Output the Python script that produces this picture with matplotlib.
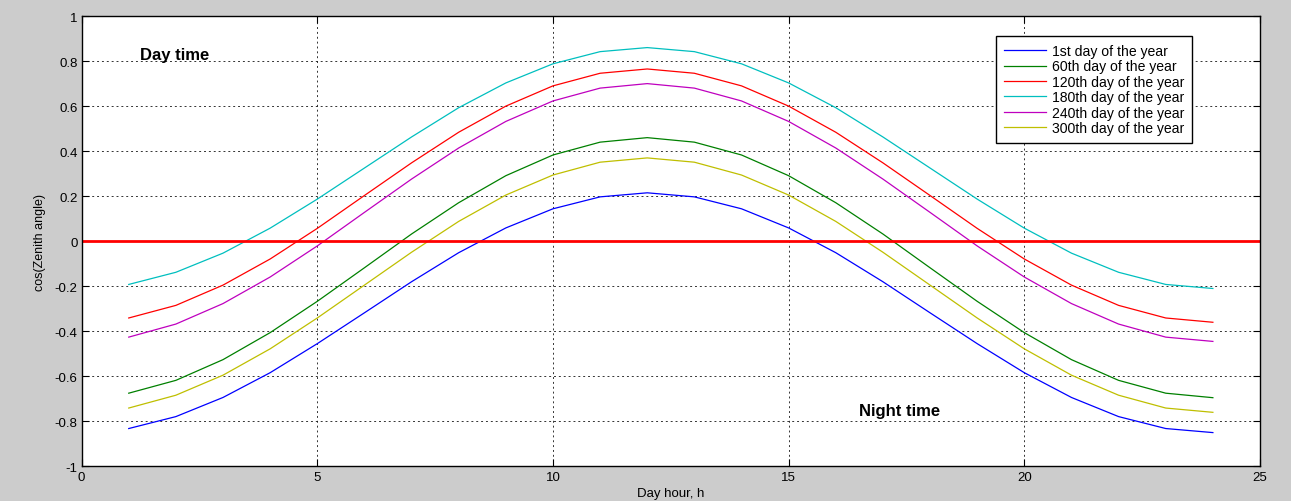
import numpy as np
import matplotlib.pyplot as plt

plt.rcParams['font.family'] = ['Liberation Sans', 'DejaVu Sans']

hours = list(range(1, 25))

# cos(zenith angle), one list per day of the year
day1 = [-0.832, -0.779, -0.694, -0.584, -0.455, -0.318, -0.180, -0.051, 0.059, 0.144, 0.197, 0.215,
        0.197, 0.144, 0.059, -0.051, -0.180, -0.318, -0.455, -0.584, -0.694, -0.779, -0.832, -0.850]
day60 = [-0.675, -0.618, -0.526, -0.406, -0.267, -0.118, 0.032, 0.171, 0.291, 0.383, 0.440, 0.460,
         0.440, 0.383, 0.291, 0.171, 0.032, -0.118, -0.267, -0.406, -0.526, -0.618, -0.675, -0.695]
day120 = [-0.341, -0.285, -0.195, -0.079, 0.057, 0.203, 0.348, 0.484, 0.600, 0.690, 0.746, 0.765,
          0.746, 0.690, 0.600, 0.484, 0.348, 0.203, 0.057, -0.079, -0.195, -0.285, -0.341, -0.360]
day180 = [-0.192, -0.138, -0.053, 0.058, 0.187, 0.325, 0.463, 0.593, 0.703, 0.788, 0.842, 0.860,
          0.842, 0.788, 0.703, 0.593, 0.463, 0.325, 0.187, 0.058, -0.053, -0.138, -0.192, -0.210]
day240 = [-0.426, -0.368, -0.277, -0.159, -0.021, 0.128, 0.276, 0.414, 0.532, 0.623, 0.680, 0.700,
          0.680, 0.623, 0.532, 0.414, 0.276, 0.128, -0.021, -0.159, -0.277, -0.368, -0.426, -0.445]
day300 = [-0.741, -0.684, -0.595, -0.478, -0.341, -0.195, -0.049, 0.088, 0.205, 0.294, 0.351, 0.370,
          0.351, 0.294, 0.205, 0.088, -0.049, -0.195, -0.341, -0.478, -0.595, -0.684, -0.741, -0.760]

series = [day1, day60, day120, day180, day240, day300]
labels = ['1st day of the year', '60th day of the year', '120th day of the year',
          '180th day of the year', '240th day of the year', '300th day of the year']
colors = ['b', 'g', 'r', 'c', 'm', 'y']

fig = plt.figure(figsize=(12.91, 5.02), dpi=100, facecolor='#cccccc')
ax = fig.add_axes([0.0632, 0.069, 0.9128, 0.897])

for y, lab, c in zip(series, labels, colors):
    ax.plot(hours, y, color=c, lw=0.9, label=lab)

ax.axhline(0, color='red', lw=2)

ax.set_xlim(0, 25)
ax.set_ylim(-1, 1)
ax.set_xticks(np.arange(0, 26, 5))
ax.set_yticks(np.round(np.arange(-1, 1.01, 0.2), 1))
ax.set_yticklabels(['-1', '-0.8', '-0.6', '-0.4', '-0.2', '0', '0.2', '0.4', '0.6', '0.8', '1'])
ax.tick_params(direction='in', top=True, right=True, labelsize=9.5, length=5, pad=3)
ax.grid(True, color='k', linestyle=(0, (2, 3)), lw=0.7, alpha=0.8)
for s in ax.spines.values():
    s.set_linewidth(1.0)

ax.set_xlabel('Day hour, h', fontsize=9.5, labelpad=3)
ax.set_ylabel('cos(Zenith angle)', fontsize=9, labelpad=6)

ax.text(1.23, 0.83, 'Day time', fontsize=12, fontweight='bold', va='center')
ax.text(16.5, -0.75, 'Night time', fontsize=12, fontweight='bold', va='center')

leg = ax.legend(loc='upper right', bbox_to_anchor=(0.942, 0.955), fontsize=10.1,
                fancybox=False, framealpha=1, edgecolor='k', handlelength=3.0,
                borderpad=0.55, labelspacing=0.1, handletextpad=0.4, borderaxespad=0)
leg.get_frame().set_linewidth(1.0)

fig.savefig('out.png', dpi=100, facecolor=fig.get_facecolor())
